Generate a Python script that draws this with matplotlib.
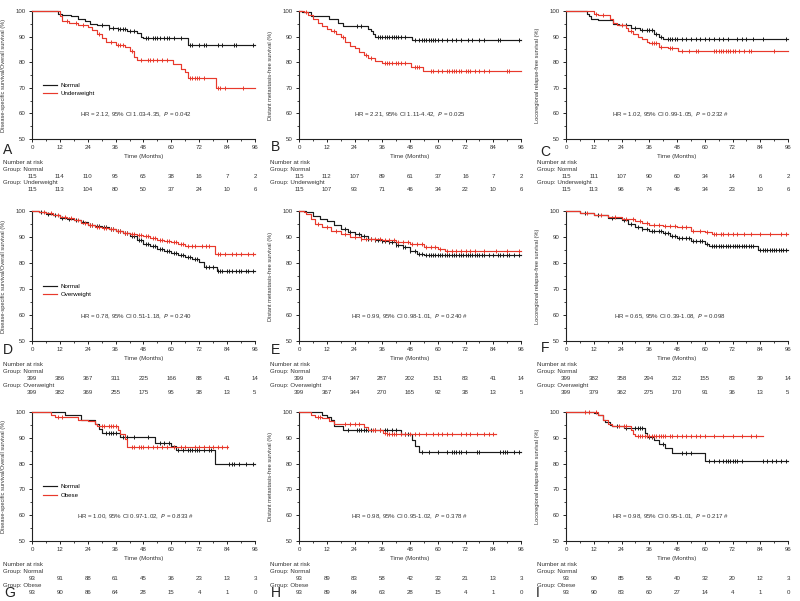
import numpy as np
import matplotlib
matplotlib.use('Agg')
import matplotlib.pyplot as plt
from matplotlib.ticker import MultipleLocator

plt.rcParams['font.family'] = ['Liberation Sans', 'DejaVu Sans']

# ---- data (months / % surviving) ----
times = [0, 12, 24, 36, 48, 60, 72, 84, 96]

# A : DSS/OS, normal vs underweight
a_norm_t = [0, 11, 13, 17, 20, 23, 25, 28, 33, 37, 41, 45, 47, 48, 67, 96]
a_norm_s = [100, 99, 98.5, 98, 97, 96, 95, 94.5, 93.5, 93, 92, 91.5, 90, 89.6, 86.8, 86.8]
a_norm_c = [30, 33, 35, 37, 38, 39, 40, 42, 44, 49, 50, 52, 53, 54, 55, 57, 58, 59, 61, 64, 68, 69, 72, 74, 75, 80, 82, 87, 88, 95]
a_uw_t = [0, 12, 13, 16, 20, 24, 26, 28, 30, 32, 36, 40, 42, 44, 45, 60.5, 64, 66, 67, 79, 96]
a_uw_s = [100, 98, 96, 95.5, 94.5, 93.9, 92.5, 91, 89.3, 87.7, 86.8, 86, 84.2, 82.2, 81, 79.3, 77.5, 76, 74, 70, 70]
a_uw_c = [15, 19, 22, 29, 34, 37, 38, 39, 43, 47, 50, 51, 52, 54, 56, 58, 68, 69, 70, 71, 72, 74, 80, 81, 83, 91]
a_risk_norm = [115, 114, 110, 95, 65, 38, 16, 7, 2]
a_risk_grp = [115, 113, 104, 80, 50, 37, 24, 10, 6]

# B : DMFS, normal vs underweight
b_norm_t = [0, 1.5, 5, 13, 17, 19, 30, 31, 32, 33, 49, 96]
b_norm_s = [100, 99.5, 98.2, 96.8, 95.5, 94, 93, 92, 91, 90, 88.5, 88.5]
b_norm_c = [25, 27, 34, 35, 36, 37, 38, 39, 40, 41, 42, 43, 44, 46, 50, 52, 53, 54, 55, 56, 57, 58, 59, 60, 62, 64, 66, 68, 70, 73, 75, 78, 80, 86, 87, 95]
b_uw_t = [0, 2, 4, 6, 8, 10, 12, 14, 16, 18, 20, 22, 24, 26, 28, 30, 33, 36, 48.5, 53.5, 96]
b_uw_s = [100, 99.5, 98.5, 97, 95.5, 94, 93, 92, 91, 90, 88, 86.5, 85.5, 84, 83, 81.7, 80.5, 79.7, 78, 76.5, 76.5]
b_uw_c = [3, 15, 19, 29, 31, 37, 38, 39, 40, 42, 43, 44, 46, 50, 51, 52, 57, 58, 60, 62, 64, 65, 66, 67, 68, 69, 70, 72, 73, 74, 76, 78, 80, 82, 90, 91]
b_risk_norm = [115, 112, 107, 89, 61, 37, 16, 7, 2]
b_risk_grp = [115, 107, 93, 71, 46, 34, 22, 10, 6]

# C : LRFS, normal vs underweight
c_norm_t = [0, 9, 10, 11, 14, 20.5, 23, 28, 32, 38, 40, 42, 96]
c_norm_s = [100, 99, 98, 97, 96.3, 95, 94.5, 93.5, 92.5, 91, 90, 89.1, 89.1]
c_norm_c = [26, 30, 33, 35, 36, 37, 39, 41, 44, 45, 46, 47, 48, 50, 52, 54, 56, 58, 60, 62, 64, 66, 68, 70, 74, 76, 78, 81, 85, 95]
c_uw_t = [0, 12, 14, 19, 20.5, 22, 26, 27, 29, 31, 33, 35, 36, 40, 44, 48.5, 96]
c_uw_s = [100, 99, 98.5, 97, 95.5, 94.5, 93.5, 92, 91, 90, 89, 88, 87.5, 86, 85.5, 84.5, 84.5]
c_uw_c = [13, 16, 24, 28, 37, 38, 39, 41, 45, 46, 50, 53, 56, 57, 64, 65, 66, 67, 68, 69, 70, 71, 72, 73, 75, 77, 79, 80, 90]
c_risk_norm = [115, 111, 107, 90, 60, 34, 14, 6, 2]
c_risk_grp = [115, 113, 96, 74, 46, 34, 23, 10, 6]

# D : DSS/OS, normal vs overweight
d_norm_t = [0, 3, 6, 9, 12, 15, 18, 21, 24, 27, 30, 33, 36, 39, 42, 45, 48, 51, 54, 57, 60, 63, 66, 69, 72, 74, 79.5, 96]
d_norm_s = [100, 99.6, 99, 98.4, 97.5, 97, 96.5, 95.7, 94.8, 94.3, 93.7, 93, 92.3, 91.5, 90.3, 89, 87.5, 86.5, 85.3, 84.6, 84, 83.2, 82.5, 81.5, 80.5, 78.5, 77, 77]
d_norm_c = [4, 7, 10, 13, 16, 19, 22, 25, 26, 28, 29, 31, 32, 34, 35, 37, 38, 40, 41, 43, 44, 46, 47, 49, 50, 52, 53, 55, 56, 58, 59, 61, 62, 64, 65, 67, 68, 70, 71, 75, 76, 78, 80, 81, 82, 84, 85, 86, 88, 89, 90, 92, 93, 95]
d_ow_t = [0, 3, 6, 9, 12, 15, 18, 21, 24, 27, 30, 33, 36, 39, 42, 45, 48, 51, 54, 57, 60, 63, 66, 72, 78.6, 96]
d_ow_s = [100, 99.6, 99.2, 98.5, 97.8, 97.2, 96.5, 95.5, 94.5, 94, 93.5, 93, 92.3, 91.7, 91, 90.6, 90.2, 89.6, 89, 88.5, 88, 87.5, 86.7, 86.7, 83.4, 83.4]
d_ow_c = [5, 8, 11, 14, 17, 20, 23, 25, 26, 28, 29, 31, 32, 34, 35, 37, 38, 40, 41, 43, 44, 46, 47, 49, 50, 52, 53, 55, 56, 58, 59, 61, 62, 64, 65, 67, 69, 70, 73, 75, 76, 80, 81, 83, 86, 88, 90, 93, 95]
d_risk_norm = [399, 386, 367, 311, 225, 166, 88, 41, 14]
d_risk_grp = [399, 382, 369, 255, 175, 95, 38, 13, 5]

# E : DMFS, normal vs overweight
e_norm_t = [0, 3, 6, 9, 12, 15, 18, 21, 24, 27, 30, 33, 36, 39, 42, 45, 48, 51, 54, 96]
e_norm_s = [100, 99.5, 98, 97, 96, 94.5, 93.2, 92, 91, 90.2, 89.3, 88.8, 88.5, 88, 87, 86, 84.5, 83.6, 83, 83]
e_norm_c = [20, 22, 24, 26, 28, 30, 31, 33, 34, 36, 37, 39, 40, 42, 43, 45, 46, 48, 50, 52, 53, 55, 56, 57, 58, 59, 60, 61, 62, 63, 64, 65, 66, 67, 68, 69, 70, 71, 72, 73, 74, 75, 76, 77, 78, 79, 80, 82, 84, 86, 87, 88, 90, 91, 93, 95]
e_ow_t = [0, 2, 3, 5, 7, 10, 14, 18, 22, 27, 36, 42, 48, 54, 60, 63, 96]
e_ow_s = [100, 99.5, 99, 97, 95, 93.7, 92.5, 91, 90, 89.2, 88.8, 88, 87.3, 86.3, 85.2, 84.5, 84.5]
e_ow_c = [8, 12, 16, 20, 24, 27, 29, 31, 33, 35, 37, 39, 41, 43, 45, 47, 49, 51, 53, 55, 57, 59, 61, 64, 66, 68, 70, 72, 74, 76, 80, 85, 90, 95]
e_risk_norm = [399, 374, 347, 287, 202, 151, 83, 41, 14]
e_risk_grp = [399, 367, 344, 270, 165, 92, 38, 13, 5]

# F : LRFS, normal vs overweight
f_norm_t = [0, 6, 12, 18, 24, 27, 30, 33, 36, 42, 45, 48, 54, 60, 62, 83, 96]
f_norm_s = [100, 99.2, 98.5, 97.5, 96.5, 95, 93.8, 93, 92.2, 91.5, 90.5, 89.5, 88.5, 87.2, 86.7, 85, 85]
f_norm_c = [8, 14, 20, 25, 28, 31, 33, 35, 37, 38, 40, 41, 43, 44, 46, 47, 49, 50, 52, 53, 55, 56, 58, 59, 61, 63, 64, 65, 66, 67, 68, 69, 70, 71, 72, 73, 74, 75, 76, 77, 78, 79, 80, 81, 84, 85, 86, 87, 88, 89, 90, 91, 92, 93, 94, 95]
f_ow_t = [0, 6, 12, 18, 24, 30, 33, 36, 42, 48, 54, 57, 60, 63, 96]
f_ow_s = [100, 99.3, 98.6, 97.8, 97, 96, 95.3, 94.5, 94.2, 93.7, 92.5, 92.2, 92, 91, 91]
f_ow_c = [9, 15, 21, 26, 29, 32, 35, 38, 40, 43, 45, 47, 50, 52, 55, 58, 61, 64, 65, 67, 68, 70, 72, 74, 77, 80, 84, 88, 93, 95]
f_risk_norm = [399, 382, 358, 294, 212, 155, 83, 39, 14]
f_risk_grp = [399, 379, 362, 275, 170, 91, 36, 13, 5]

# G : DSS/OS, normal vs obese
g_norm_t = [0, 14, 21, 27, 29, 30, 38, 53, 60, 62, 78.7, 96]
g_norm_s = [100, 99, 96.8, 95.5, 93.5, 91.9, 90.3, 88, 87, 85.3, 80, 80]
g_norm_c = [32, 33, 34, 35, 36, 39, 41, 44, 50, 55, 57, 59, 63, 65, 67, 68, 69, 70, 71, 72, 74, 76, 77, 85, 86, 87, 89, 92, 95]
g_ob_t = [0, 8, 10, 20, 24, 27, 28, 37, 38, 40, 41, 84.5]
g_ob_s = [100, 99, 98, 96.8, 96.5, 95.5, 94.4, 93, 91.5, 89.7, 86.5, 86.5]
g_ob_c = [11, 13, 30, 31, 33, 34, 35, 36, 43, 44, 46, 47, 48, 50, 52, 54, 56, 58, 61, 64, 66, 70, 72, 74, 76, 78, 80, 82, 84]
g_risk_norm = [93, 91, 88, 61, 45, 36, 23, 13, 3]
g_risk_grp = [93, 90, 86, 64, 28, 15, 4, 1, 0]

# H : DMFS, normal vs obese
h_norm_t = [0, 10, 12, 14, 15, 19, 44, 49, 50, 52, 96]
h_norm_s = [100, 99, 98, 96.8, 94.4, 92.9, 91.6, 89, 87, 84.5, 84.5]
h_norm_c = [21, 25, 26, 27, 28, 29, 30, 31, 33, 35, 37, 38, 40, 42, 46, 47, 53, 56, 60, 64, 66, 67, 68, 69, 70, 72, 77, 78, 87, 88, 89, 90, 93, 95]
h_ob_t = [0, 5, 7, 10, 13, 15, 28, 30, 36.5, 38, 85]
h_ob_s = [100, 99, 98, 97.5, 96.5, 95.5, 94.2, 93, 92, 91.6, 91.6]
h_ob_c = [8, 9, 20, 22, 24, 26, 32, 33, 35, 37, 38, 39, 40, 41, 42, 44, 46, 48, 50, 52, 55, 58, 60, 62, 64, 66, 70, 72, 74, 77, 80, 82, 84]
h_risk_norm = [93, 89, 83, 58, 42, 32, 21, 13, 3]
h_risk_grp = [93, 89, 84, 63, 28, 15, 4, 1, 0]

# I : LRFS, normal vs obese
i_norm_t = [0, 12, 14, 16, 17, 19, 20, 25, 34, 35, 38, 40, 43, 46, 60, 96]
i_norm_s = [100, 99.5, 98.7, 97, 96, 95, 94.4, 93.9, 91.9, 90.3, 89, 87.7, 86, 84.1, 81, 81]
i_norm_c = [22, 26, 28, 30, 31, 32, 33, 36, 37, 42, 50, 52, 54, 62, 64, 66, 68, 69, 70, 71, 72, 73, 74, 76, 85, 87, 89, 91, 93, 95]
i_ob_t = [0, 14, 16, 18, 20, 28, 29, 30, 85]
i_ob_s = [100, 99, 97, 95.5, 94.5, 93, 91.5, 90.7, 90.7]
i_ob_c = [8, 10, 13, 23, 25, 26, 31, 32, 33, 34, 35, 36, 37, 38, 39, 40, 41, 42, 43, 45, 46, 48, 50, 52, 54, 56, 58, 60, 64, 68, 72, 76, 80, 82]
i_risk_norm = [93, 90, 85, 56, 40, 32, 20, 12, 3]
i_risk_grp = [93, 90, 83, 60, 27, 14, 4, 1, 0]

ylabels = ['Disease-specific survival/Overall survival (%)',
           'Distant metastasis-free survival (%)',
           'Locoregional relapse-free survival (%)']
groups = ['Underweight', 'Overweight', 'Obese']
hr_texts = ['HR = 2.12, 95% CI 1.03-4.35,  $P$ = 0.042',
            'HR = 2.21, 95% CI 1.11-4.42,  $P$ = 0.025',
            'HR = 1.02, 95% CI 0.99-1.05,  $P$ = 0.232 #',
            'HR = 0.78, 95% CI 0.51-1.18,  $P$ = 0.240',
            'HR = 0.99, 95% CI 0.98-1.01,  $P$ = 0.240 #',
            'HR = 0.65, 95% CI 0.39-1.08,  $P$ = 0.098',
            'HR = 1.00, 95% CI 0.97-1.02,  $P$ = 0.833 #',
            'HR = 0.98, 95% CI 0.95-1.02,  $P$ = 0.378 #',
            'HR = 0.98, 95% CI 0.95-1.01,  $P$ = 0.217 #']
letters = ['A', 'B', 'C', 'D', 'E', 'F', 'G', 'H', 'I']

panels = [
    (a_norm_t, a_norm_s, a_norm_c, a_uw_t, a_uw_s, a_uw_c, a_risk_norm, a_risk_grp),
    (b_norm_t, b_norm_s, b_norm_c, b_uw_t, b_uw_s, b_uw_c, b_risk_norm, b_risk_grp),
    (c_norm_t, c_norm_s, c_norm_c, c_uw_t, c_uw_s, c_uw_c, c_risk_norm, c_risk_grp),
    (d_norm_t, d_norm_s, d_norm_c, d_ow_t, d_ow_s, d_ow_c, d_risk_norm, d_risk_grp),
    (e_norm_t, e_norm_s, e_norm_c, e_ow_t, e_ow_s, e_ow_c, e_risk_norm, e_risk_grp),
    (f_norm_t, f_norm_s, f_norm_c, f_ow_t, f_ow_s, f_ow_c, f_risk_norm, f_risk_grp),
    (g_norm_t, g_norm_s, g_norm_c, g_ob_t, g_ob_s, g_ob_c, g_risk_norm, g_risk_grp),
    (h_norm_t, h_norm_s, h_norm_c, h_ob_t, h_ob_s, h_ob_c, h_risk_norm, h_risk_grp),
    (i_norm_t, i_norm_s, i_norm_c, i_ob_t, i_ob_s, i_ob_c, i_risk_norm, i_risk_grp),
]

# ---- layout (pixels) ----
W, H = 800, 601
col_left = [32, 299, 566]
col_w = [223, 222, 222]
row_top = [11, 211, 412]
row_h = [128, 130, 129]
hr_x = [44.5, 48, 45]
letter_pos = [(8, 150), (276, 147), (545, 152),
              (8, 350), (276, 350), (545, 348),
              (10, 593), (276, 593), (538, 593)]

black = '#1a1a1a'
red = '#e8392c'
txt = '#333333'
fs = 4.4

fig = plt.figure(figsize=(8, 6.01), dpi=100)


def fx(x):
    return x / W


def fy(y):
    return 1 - y / H


def km(ax, t, s, c, color, label):
    t = np.array(t, dtype=float)
    s = np.array(s, dtype=float)
    ax.step(t, s, where='post', color=color, lw=0.85, label=label, clip_on=False, zorder=3)
    # censor ticks sit on the step curve
    c = np.array(c, dtype=float)
    c = c[c <= t[-1]]
    cy = s[np.searchsorted(t, c, side='right') - 1]
    ax.plot(c, cy, ls='none', marker='|', ms=2.8, mew=0.7, color=color, clip_on=False, zorder=3)


for k, p in enumerate(panels):
    row, col = k // 3, k % 3
    l, t, w, h = col_left[col], row_top[row], col_w[col], row_h[row]
    ax = fig.add_axes([fx(l), fy(t + h), w / W, h / H])
    nt, ns, nc, gt, gs, gc, rn, rg = p

    km(ax, nt, ns, nc, black, 'Normal')
    km(ax, gt, gs, gc, red, groups[row])

    ax.set_xlim(0, 96)
    ax.set_ylim(50, 100)
    ax.xaxis.set_major_locator(MultipleLocator(12))
    ax.xaxis.set_minor_locator(MultipleLocator(6))
    ax.yaxis.set_major_locator(MultipleLocator(10))
    ax.yaxis.set_minor_locator(MultipleLocator(5))
    for sp in ['top', 'right']:
        ax.spines[sp].set_visible(False)
    for sp in ['left', 'bottom']:
        ax.spines[sp].set_color('#222222')
        ax.spines[sp].set_linewidth(0.8)
    ax.tick_params(which='major', length=2.5, width=0.7, labelsize=fs, pad=2, colors='#222222', labelcolor=txt)
    ax.tick_params(which='minor', length=1.5, width=0.6, colors='#222222')
    ax.set_xlabel('Time (Months)', fontsize=fs, color=txt, labelpad=3)
    ax.set_ylabel(ylabels[col], fontsize=4.1, color=txt)
    ax.yaxis.set_label_coords(-0.115, 0.5)

    ax.text(hr_x[col], 59.5, hr_texts[k], fontsize=fs, color=txt, ha='center', va='center')

    if col == 0:
        ax.legend(loc='upper left', bbox_to_anchor=(0.04, 0.46), frameon=False, fontsize=fs,
                  handlelength=2.2, handletextpad=0.6, labelspacing=0.5, borderaxespad=0)

    # number at risk table
    bottom = t + h
    x0 = l - 29
    fig.text(fx(x0), fy(bottom + 24), 'Number at risk', fontsize=fs, color=txt, va='center')
    fig.text(fx(x0), fy(bottom + 31), 'Group: Normal', fontsize=fs, color=txt, va='center')
    fig.text(fx(x0), fy(bottom + 44), 'Group: ' + groups[row], fontsize=fs, color=txt, va='center')
    for m, a, b in zip(times, rn, rg):
        xp = l + m / 96 * w
        fig.text(fx(xp), fy(bottom + 38), str(a), fontsize=fs, color=txt, ha='center', va='center')
        fig.text(fx(xp), fy(bottom + 51), str(b), fontsize=fs, color=txt, ha='center', va='center')

    lx, ly = letter_pos[k]
    fig.text(fx(lx), fy(ly), letters[k], fontsize=10, color='#222222', ha='center', va='center')

fig.savefig('out.png', dpi=100)
